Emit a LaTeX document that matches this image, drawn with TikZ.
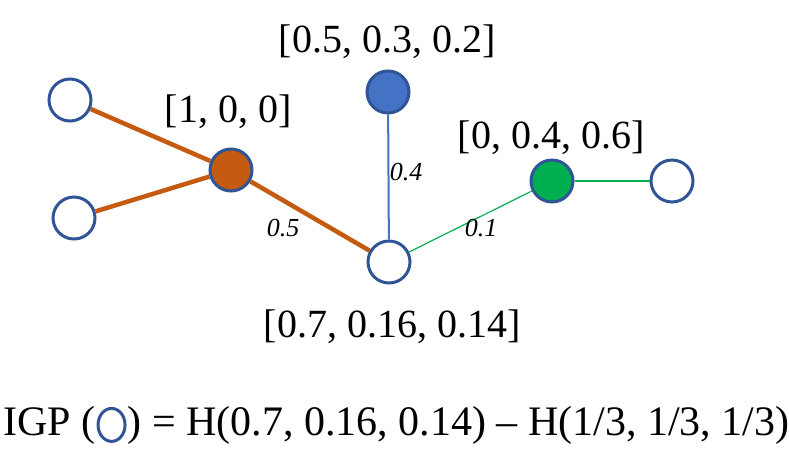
\documentclass[tikz,border=0pt]{standalone}
\usepackage{fontspec}
\setmainfont{Liberation Serif}
\usetikzlibrary{positioning}
\usetikzlibrary{shapes.geometric}
\definecolor{rim}{HTML}{2F5597}
\definecolor{rust}{HTML}{C55A11}
\definecolor{sky}{HTML}{4472C4}
\definecolor{leaf}{HTML}{00B050}

\begin{document}
\begin{tikzpicture}[x=1pt,y=-1pt,
	vtx/.style={draw=rim,line width=3pt,shape=circle,minimum size=42pt,inner sep=0pt,fill=white},
	vec/.style={font=\fontsize{40}{48}\selectfont,inner sep=0pt},
	wt/.style={font=\fontsize{26}{30}\selectfont\itshape,inner sep=0pt},
	eq/.style={font=\fontsize{42}{50}\selectfont,inner sep=0pt}]
	\useasboundingbox (0,0) rectangle (789,448);
	\draw (70,100) node(L1) [vtx] {};
	\draw (74,218) node(L2) [vtx] {};
	\draw (231,170) node(R) [vtx,fill=rust] {};
	\draw (388,92) node(B) [vtx,fill=sky] {};
	\draw (389,262) node(C) [vtx] {};
	\draw (552,181) node(G) [vtx,fill=leaf] {};
	\draw (672,181) node(E) [vtx] {};
	\draw[rust,line width=4.5pt] (L1) -- (R);
	\draw[rust,line width=4.5pt] (L2) -- (R);
	\draw[rust,line width=4.5pt] (R) -- (C);
	\draw[sky,line width=2pt] (B) -- (C);
	\draw[leaf,line width=1.2pt] (C) -- (G);
	\draw[leaf,line width=1.2pt] (G) -- (E);
	\node [vec] at (228,112) {[1, 0, 0]};
	\node [vec] at (387,42) {[0.5, 0.3, 0.2]};
	\node [vec] at (551,138) {[0, 0.4, 0.6]};
	\node [vec] at (392,327) {[0.7, 0.16, 0.14]};
	\node [wt] at (283,228) {0.5};
	\node [wt] at (406,172) {0.4};
	\node [wt] at (481,228) {0.1};
	\node (igpL) [eq,anchor=base west] at (3,435) {IGP (};
	\node (ring) [draw=rim,line width=3pt,shape=ellipse,minimum width=27pt,minimum height=33pt,inner sep=0pt,right=1pt of igpL.east] {};
	\node (igpR) [eq,anchor=base west] at (ring.east |- igpL.base) {\hspace{1pt}) = H(0.7, 0.16, 0.14) – H(1/3, 1/3, 1/3)};
\end{tikzpicture}
\end{document}
